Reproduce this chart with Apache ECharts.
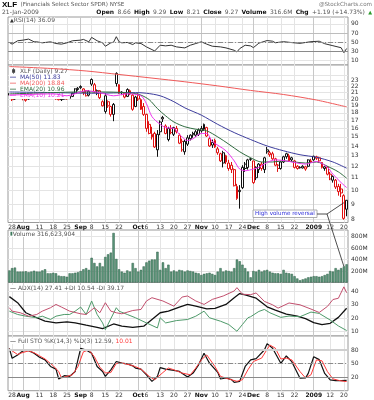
<!DOCTYPE html>
<html><head><meta charset="utf-8">
<script src="https://cdn.jsdelivr.net/npm/echarts@6/dist/echarts.min.js"></script>
<style>html,body{margin:0;padding:0;background:#fff}#c{width:374px;height:400px}</style>
</head><body><div id="c"></div>
<script>
const dates = ["7/25","7/28","7/29","7/30","7/31","8/1","8/4","8/5","8/6","8/7","8/8","8/11","8/12","8/13","8/14","8/15","8/18","8/19","8/20","8/21","8/22","8/25","8/26","8/27","8/28","8/29","9/2","9/3","9/4","9/5","9/8","9/9","9/10","9/11","9/12","9/15","9/16","9/17","9/18","9/19","9/22","9/23","9/24","9/25","9/26","9/29","9/30","10/1","10/2","10/3","10/6","10/7","10/8","10/9","10/10","10/13","10/14","10/15","10/16","10/17","10/20","10/21","10/22","10/23","10/24","10/27","10/28","10/29","10/30","10/31","11/3","11/4","11/5","11/6","11/7","11/10","11/11","11/12","11/13","11/14","11/17","11/18","11/19","11/20","11/21","11/24","11/25","11/26","11/28","12/1","12/2","12/3","12/4","12/5","12/8","12/9","12/10","12/11","12/12","12/15","12/16","12/17","12/18","12/19","12/22","12/23","12/24","12/26","12/29","12/30","12/31","1/2","1/5","1/6","1/7","1/8","1/9","1/12","1/13","1/14","1/15","1/16","1/20","1/21"];
const tickDates = ["7/28","8/1","8/11","8/18","8/25","9/2","9/8","9/15","9/22","10/1","10/6","10/13","10/20","10/27","11/3","11/10","11/17","11/24","12/1","12/8","12/15","12/22","1/2","1/12","1/20"];
const tickTexts = ["28","Aug","11","18","25","Sep","8","15","22","Oct","6","13","20","27","Nov","10","17","24","Dec","8","15","22","2009","12","20"];

const open = [20.6,20.8,20.0,20.9,21.1,20.5,20.0,20.0,20.9,20.9, 20.6,21.4,21.6,20.8,20.3,20.9,21.1,20.6,20.2,19.9, 20.0,20.4,20.1,20.4,20.9,21.5,22.0,21.0,21.3,20.6, 23.2,22.3,20.9,21.3,19.6,18.2,19.6,18.9,17.8,24.3, 22.3,21.1,20.9,20.4,20.8,20.6,18.9,20.6,19.9,18.9, 17.8,16.5,15.0,15.4,13.6,15.6,17.4,16.3,14.7,16.0, 15.3,16.0,15.2,14.5,13.4,14.2,14.8,15.4,15.2,15.3, 15.7,15.9,16.1,14.8,14.1,14.6,13.7,13.2,12.3,13.0, 12.3,12.1,11.7,10.3,10.0,10.2,11.8,11.9,12.7,12.5, 11.0,11.7,12.2,11.7,13.4,13.1,13.2,12.7,12.1,11.8, 12.4,12.9,13.0,12.8,12.5,12.0,11.9,11.85,11.75,12.0, 12.4,12.6,12.9,12.8,12.35,11.8,11.9,11.3,10.8,10.8, 10.3,10.1,9.6,8.66];
const close = [20.9,19.9,20.8,21.3,20.4,20.1,19.8,21.0,21.1,20.5, 21.5,21.7,20.9,20.4,20.9,21.0,21.05,20.0,19.9,20.0, 20.4,20.0,20.4,20.9,21.6,21.7,21.8,21.6,20.5,21.2, 22.4,21.1,21.3,20.2,19.0,20.5,19.0,17.8,19.2,22.5, 20.9,21.0,20.3,21.5,21.3,18.5,20.3,20.0,18.5,17.8, 16.0,15.4,15.3,13.9,15.3,16.8,17.2,15.4,16.0,15.5, 16.1,15.6,14.3,13.6,14.5,14.9,15.2,15.25,15.6,15.8, 16.0,16.5,15.1,14.0,14.4,13.9,13.3,12.5,13.3,12.4, 11.8,11.7,10.35,9.4,9.9,11.9,12.2,12.6,12.65,10.6, 11.9,12.2,11.8,12.8,13.6,13.3,12.7,12.1,11.8,12.4, 12.9,13.2,12.5,12.6,11.9,11.8,11.85,12.0,11.95,12.6, 12.5,12.95,12.75,12.5,11.9,11.95,11.3,10.9,11.1,10.25, 9.9,9.8,8.08,9.27];
const low = [20.3,19.7,19.9,20.5,20.3,19.8,19.6,19.9,20.6,20.3, 20.5,21.2,20.8,20.2,20.1,20.7,20.7,19.9,19.8,19.7, 19.9,19.9,20.0,20.3,20.8,21.3,21.6,20.6,20.4,20.4, 22.1,21.0,20.6,20.0,18.9,17.9,18.7,17.5,16.9,22.0, 20.8,20.6,20.1,20.3,20.6,18.3,18.8,19.7,18.4,17.6, 15.6,15.3,14.7,13.8,12.9,15.2,16.8,15.3,14.5,15.3, 15.1,15.4,14.2,13.4,13.1,14.0,14.6,14.9,15.0,15.1, 15.5,15.7,15.0,13.9,13.8,13.8,13.1,12.4,11.9,12.2, 11.6,11.4,10.3,9.3,8.7,10.1,11.5,11.7,12.5,10.5, 10.8,11.4,11.6,11.4,13.2,12.9,12.6,12.0,11.5,11.7, 12.3,12.7,12.4,12.4,11.8,11.7,11.8,11.8,11.6,11.9, 12.3,12.5,12.6,12.3,11.8,11.6,11.2,10.8,10.6,10.1, 9.6,9.5,8.0,8.21];
const high = [21.1,20.9,20.9,21.5,21.4,20.7,20.3,21.1,21.4,21.0, 21.7,22.1,21.7,21.0,21.1,21.3,21.2,20.7,20.4,20.2, 20.5,20.5,20.6,21.0,21.7,21.9,22.2,21.7,21.4,21.4, 23.4,22.6,21.5,21.4,19.8,20.9,19.8,19.0,19.4,24.5, 22.4,21.2,21.0,21.7,21.5,20.8,20.5,20.9,20.1,19.4, 17.9,16.9,16.2,15.6,15.8,17.0,17.6,16.5,16.2,16.4, 16.2,16.3,15.4,14.8,14.7,15.2,15.3,15.6,15.8,16.0, 16.3,16.6,16.2,15.0,14.7,14.8,13.9,13.3,13.5,13.1, 12.6,12.4,11.8,10.5,10.4,12.1,12.4,12.7,12.8,12.5, 12.0,12.3,12.4,12.9,13.9,13.5,13.4,12.8,12.2,12.5, 13.0,13.3,13.2,12.9,12.6,12.1,12.0,12.1,12.05,12.65, 12.7,13.0,13.0,12.9,12.4,12.0,12.0,11.5,11.2,10.9, 10.5,10.5,9.7,9.29];
const volumeM = [210,250,260,190,190,190,195,180,190,205, 190,190,210,230,160,160,170,160,120,110, 110,100,160,160,170,180,200,230,250,220, 430,340,280,340,280,445,490,520,862,410, 230,190,170,210,190,340,250,190,220,280, 350,380,400,400,535,220,350,250,310,190, 210,190,220,210,190,210,200,190,170,160, 130,150,160,170,150,130,190,250,190,210, 200,190,250,400,370,310,250,190,90,200, 190,220,190,210,220,190,170,160,160,150, 220,170,160,150,110,70,40,55,70,90, 100,110,110,100,110,130,150,200,190,250, 220,250,280,316.6];
const lastVolume = 316623904;

const ma50Pts = [[0,21.1],[16,21.0],[30,20.9],[46,21.0],[50,20.9],[55,20.5],[60,19.6],[64,18.7],[70,17.7],[76,16.5],[82,15.5],[88,14.7],[94,14.0],[100,13.5],[106,13.1],[112,12.85],[118,12.4],[123,11.83]];
const ma200Pts = [[0,25.6],[16,25.2],[28,24.75],[40,24.1],[52,23.45],[64,22.8],[76,22.1],[88,21.35],[100,20.7],[112,19.85],[123,18.84]];
const ema20Pts = [[0,20.8],[16,21.0],[25,21.1],[35,21.1],[45,20.9],[48,20.6],[51,19.9],[54,18.6],[57,17.6],[60,16.8],[64,16.2],[68,15.9],[72,15.7],[76,15.0],[80,14.2],[84,13.4],[88,12.8],[92,12.4],[96,12.4],[100,12.5],[104,12.4],[108,12.3],[112,12.4],[116,12.0],[120,11.5],[123,10.96]];
const ema10Pts = [[0,20.6],[16,20.8],[21,20.5],[28,21.3],[33,21.0],[38,20.5],[43,20.8],[48,20.5],[50,19.3],[52,17.5],[55,16.5],[57,16.1],[60,16.0],[62,15.3],[65,14.6],[67,14.8],[70,15.4],[72,15.4],[74,14.5],[79,13.5],[82,12.5],[84,11.75],[86,11.6],[89,11.75],[91,11.9],[94,12.35],[97,12.6],[101,12.5],[105,12.3],[108,12.2],[112,12.45],[116,11.9],[118,11.3],[121,10.6],[123,10.21]];

const rsiPts = [[0,49.3],[1,45.6],[3,53],[5,54.4],[7,56.7],[9,50.7],[10,50.7],[12,48.5],[15,50.7],[17,47],[19,45.6],[21,48.5],[23,53],[26,54.4],[27,56],[29,50.7],[30,60.4],[32,53],[34,48.5],[35,41],[37,48.5],[38,50],[39,61.9],[40,50.7],[41,48.5],[43,49.3],[45,44.8],[46,48.5],[48,47],[50,39.6],[52,33.7],[53,30.7],[55,43.3],[57,41.9],[59,43.3],[61,39.6],[63,38.1],[64,37.4],[66,43.3],[68,47],[70,50.7],[72,45.6],[74,41.1],[77,39.6],[79,37.4],[82,32.2],[83,28.5],[84,35.9],[86,43.3],[88,41.8],[89,38],[91,47.8],[94,53.5],[96,52],[97,48.7],[100,51],[103,49],[106,47.4],[110,51],[113,52],[115,46.6],[118,42.2],[121,37.8],[122,27],[123,36.09]];
const adxPts = [[0,36.2],[3,31.6],[6,24],[10,20.2],[13,17.6],[17,16.3],[21,17.1],[24,16.3],[28,14.6],[32,13],[34,12],[38,15.5],[41,13.8],[45,13],[49,13.8],[52,18.9],[55,24],[58,25.2],[62,28.3],[65,30.3],[68,29],[72,27],[75,27.3],[79,30.3],[82,35.4],[84,38.5],[86,37.5],[90,35],[94,28.5],[97,26],[101,23],[105,21.5],[108,19.5],[111,16.5],[114,15],[117,16],[120,20.5],[123,27.41]];
const plusDiPts = [[0,25.2],[3,22.7],[6,21.4],[10,20.2],[12,21.4],[15,18.9],[17,21.4],[20,22.7],[22,22.7],[24,25.2],[26,28.3],[28,22.7],[30,32.9],[32,22.7],[34,16.3],[35,11.2],[39,27.8],[40,25.2],[43,22.7],[46,20.2],[50,16.3],[54,12.5],[55,20.2],[57,16.3],[61,18.1],[65,18.9],[68,21.4],[71,25.2],[73,20.2],[77,17.6],[80,15.1],[83,10],[85,15.1],[87,20.2],[88,21],[91,25],[93,26.5],[95,24],[99,20.5],[102,21.5],[106,21],[110,24.5],[113,23.5],[117,18.5],[120,14],[123,10.54]];
const minusDiPts = [[0,27.8],[1,25.2],[4,24],[7,21.4],[10,22.7],[12,25.2],[15,27.8],[17,30.3],[19,28.3],[22,25.2],[26,23.2],[28,22.7],[31,27.8],[33,24],[35,31.6],[37,25.2],[39,24],[41,23.2],[45,25.7],[48,26.5],[50,32.9],[52,35.4],[56,32.9],[60,29],[63,35.9],[65,36.7],[68,32.9],[71,30.3],[74,34.1],[78,36.7],[82,40.5],[83,43],[85,38],[88,37.7],[90,39],[93,32.6],[96,30],[98,27.5],[102,31.4],[106,30],[110,26.8],[113,24.2],[116,28.8],[118,34],[120,35],[122,43.6],[123,39.17]];
const stoKPts = [[0,83.7],[1,61.7],[3,69],[5,78.5],[7,78.5],[9,72.7],[11,64],[13,58],[15,43.4],[17,37.6],[18,15.6],[20,23],[22,21.5],[24,32.4],[26,83.7],[28,80],[30,72.7],[32,43.4],[34,32.4],[35,21.5],[37,36],[39,54.4],[41,50.7],[43,49],[45,44.9],[46,39.8],[48,37.6],[50,25],[52,10.5],[54,21.5],[55,41],[57,37.6],[60,34.6],[62,32.4],[65,20],[67,28.8],[69,47],[71,72.7],[73,50.7],[76,30.3],[77,15.6],[79,17.8],[81,14.2],[82,8.3],[84,10.5],[86,43.4],[88,58],[90,61],[93,80],[94,94],[96,83.7],[99,50.5],[101,66.7],[103,54],[106,17.3],[108,18],[109,28],[111,65],[113,58.6],[115,28],[117,13.6],[119,12],[121,12],[123,12.59]];
const stoDPts = [[0,82],[1,78],[3,70],[4,72.7],[7,78],[9,74],[11,67],[13,60],[16,45],[18,32],[19,18],[21,21.5],[23,25],[25,43],[27,76],[29,80],[31,65],[33,42],[35,29],[37,30],[39,50],[41,51],[44,47],[46,43],[48,37.6],[51,21.5],[53,14],[56,30],[58,40],[60,36],[63,28.8],[66,25],[68,40],[70,58],[72,69],[75,43],[77,21.5],[80,15.6],[83,10.5],[85,14],[87,36],[89,54.4],[92,62],[95,91],[97,84],[99,60],[101,62],[103,58],[106,32],[108,18],[110,25],[112,58],[114,56],[116,32],[118,16],[120,12.7],[122,10.5],[123,10.01]];

const priceTicks = [8,9,10,11,12,13,14,15,16,17,18,19,20,21,22,23,24];
const rsiTicks = [10,30,50,70,90];
const volTicks = [200,400,600,800];
const adxTicks = [10,20,30,40];
const stoTicks = [20,50,80];
const calloutPrice = 9.1;

const F = 'DejaVu Sans';
const RED = '#e01010', BLACK = '#111';
const C_MA50 = '#3c3c9c', C_MA200 = '#f05a5a', C_EMA20 = '#2f6b3f', C_EMA10 = '#ee33ee';
const last = a => a[a.length - 1];
const lastPt = a => a[a.length - 1][1];

const tickSet = new Set(tickDates);
const labelOf = {}; tickDates.forEach((d, i) => { labelOf[d] = tickTexts[i]; });
const splitColors = tickTexts.map(t => /^\d{1,2}$/.test(t) ? '#e4e4e4' : '#c8c8c8');

const chart = echarts.init(document.getElementById('c'), null, {renderer: 'canvas', width: 374, height: 400});

const gridBase = {show: true, borderColor: '#9a9a9a', borderWidth: 1, backgroundColor: '#fff', left: 8, right: 26, outerBoundsMode: 'none'};
const grids = [
  {top: 17, height: 48},
  {top: 65, height: 157.5},
  {top: 230, height: 52.5},
  {top: 282.5, height: 53.5},
  {top: 336, height: 54.7}
].map(g => Object.assign({}, gridBase, g));

function xAx(i, showLabels) {
  return {
    type: 'category', gridIndex: i, data: dates, boundaryGap: true,
    axisLine: {show: false}, axisTick: {show: false},
    axisLabel: {
      show: showLabels, interval: (idx, val) => tickSet.has(val), margin: 2,
      fontSize: 6, fontFamily: F, color: '#333',
      formatter: val => { const t = labelOf[val] || ''; return /^\d{1,2}$/.test(t) ? t : '{m|' + t + '}'; },
      rich: {m: {fontWeight: 'bold', fontSize: 6, fontFamily: F, color: '#111'}}
    },
    splitLine: {show: true, interval: (idx, val) => tickSet.has(val), alignWithLabel: true, lineStyle: {color: splitColors, width: 1}}
  };
}
function yAx(i, base, ticks, fmt) {
  return Object.assign({
    gridIndex: i, position: 'right', scale: true,
    axisLine: {show: false}, axisTick: {show: false, customValues: ticks},
    axisLabel: {customValues: ticks, fontSize: 6, fontFamily: F, color: '#333', margin: 3, formatter: fmt},
    splitLine: {show: true, lineStyle: {color: '#e4e4e4', width: 1}}
  }, base);
}
function hl(v, color, width, type) { return {yAxis: v, lineStyle: {color: color, width: width, type: type}}; }
function ml(data) { return {silent: true, symbol: ['none', 'none'], label: {show: false}, animation: false, data: data}; }
function line(name, xi, data, color, width, extra) {
  return Object.assign({name: name, type: 'line', xAxisIndex: xi, yAxisIndex: xi, data: data, showSymbol: false, symbol: 'none',
    connectNulls: true, lineStyle: {color: color, width: width}, itemStyle: {color: color}, animation: false}, extra || {});
}

const candleData = dates.map((d, i) => {
  const col = (i > 0 && close[i] < close[i - 1]) ? RED : BLACK;
  return {value: [open[i], close[i], low[i], high[i]], itemStyle: {color: '#fff', color0: col, borderColor: col, borderColor0: col, borderWidth: 1}};
});

const legendVals = {
  'XLF (Daily)': last(close).toFixed(2), 'MA(50)': lastPt(ma50Pts).toFixed(2), 'MA(200)': lastPt(ma200Pts).toFixed(2),
  'EMA(20)': lastPt(ema20Pts).toFixed(2), 'EMA(10)': lastPt(ema10Pts).toFixed(2)
};
const lineIcon = 'path://M0,0L10,0M0,4.5L10,4.5L10,6L0,6ZM0,10L10,10';
const candleIcon = 'path://M0,0L0,0M4,0H5V2H7V8H5V10H4V8H2V2H4Z';

const option = {
  animation: false,
  grid: grids,
  xAxis: [xAx(0, false), xAx(1, true), xAx(2, false), xAx(3, false), xAx(4, true)],
  yAxis: [
    yAx(0, {type: 'value', min: 0, max: 105}, rsiTicks),
    yAx(1, {type: 'log', logBase: 10, min: 7.83, max: 25.9}, priceTicks, v => String(Math.round(v))),
    yAx(2, {type: 'value', min: 0, max: 913}, volTicks, v => v + 'M'),
    yAx(3, {type: 'value', min: 6.4, max: 46.9}, adxTicks),
    yAx(4, {type: 'value', min: -10.3, max: 111}, stoTicks)
  ],
  legend: {
    left: 9, top: 67, orient: 'vertical', itemGap: 0, itemWidth: 8, itemHeight: 6, padding: [1, 2, 1, 1],
    backgroundColor: '#fff', selectedMode: false,
    textStyle: {fontSize: 6, fontFamily: F, lineHeight: 6, padding: [0, 0, 0, -2]},
    formatter: name => name + ' ' + legendVals[name],
    data: [
      {name: 'XLF (Daily)', icon: candleIcon, itemStyle: {color: '#444', borderWidth: 0}, textStyle: {color: '#555'}},
      {name: 'MA(50)', icon: lineIcon, itemStyle: {color: C_MA50, borderWidth: 0}, textStyle: {color: C_MA50}},
      {name: 'MA(200)', icon: lineIcon, itemStyle: {color: C_MA200, borderWidth: 0}, textStyle: {color: C_MA200}},
      {name: 'EMA(20)', icon: lineIcon, itemStyle: {color: C_EMA20, borderWidth: 0}, textStyle: {color: C_EMA20}},
      {name: 'EMA(10)', icon: lineIcon, itemStyle: {color: C_EMA10, borderWidth: 0}, textStyle: {color: C_EMA10}}
    ]
  },
  series: [
    line('RSI', 0, rsiPts, '#333', 1, {markLine: ml([hl(70, '#bdbdbd', 1, 'solid'), hl(50, '#8a8a8a', 1, [5, 2, 1, 2]), hl(30, '#8a8a8a', 1.2, 'solid')])}),
    {name: 'XLF (Daily)', type: 'candlestick', xAxisIndex: 1, yAxisIndex: 1, data: candleData, barWidth: 2.4, animation: false, z: 3},
    line('MA(50)', 1, ma50Pts, C_MA50, 1, {smooth: 0.3, z: 4}),
    line('MA(200)', 1, ma200Pts, C_MA200, 1, {smooth: 0.3, z: 4}),
    line('EMA(20)', 1, ema20Pts, C_EMA20, 1, {smooth: 0.3, z: 4}),
    line('EMA(10)', 1, ema10Pts, C_EMA10, 1, {smooth: 0.3, z: 4}),
    {name: 'Volume', type: 'bar', xAxisIndex: 2, yAxisIndex: 2, data: volumeM, barCategoryGap: '15%', animation: false,
      itemStyle: {color: '#5b967a', borderColor: '#2f5e46', borderWidth: 0.5}},
    line('ADX', 3, adxPts, '#111', 1.3),
    line('+DI', 3, plusDiPts, '#4e9a6a', 1),
    line('-DI', 3, minusDiPts, '#c2506e', 1),
    line('%K', 4, stoKPts, '#111', 1.2, {markLine: ml([hl(80, '#cfcfcf', 2, 'solid'), hl(50, '#8a8a8a', 1, [5, 2, 1, 2]), hl(20, '#8a8a8a', 1.2, 'solid')])}),
    line('%D', 4, stoDPts, '#ff3b3b', 1)
  ]
};
chart.setOption(option);

const chg = close[close.length - 1] - close[close.length - 2];
const pct = chg / close[close.length - 2] * 100;
const fmtVol = n => String(n).replace(/\B(?=(\d{3})+(?!\d))/g, ',');
const small = {fontSize: 6, fontFamily: F, fill: '#555'};
const bold = {fontSize: 6, fontFamily: F, fontWeight: 'bold', fill: '#111'};

const pCandle = chart.convertToPixel({gridIndex: 1}, [dates[122], calloutPrice]);
const pVol = chart.convertToPixel({gridIndex: 2}, [dates[122], volumeM[122]]);
const vtx = [327, 214];

const graphics = [
  {type: 'text', x: 2, y: 5, style: {text: '{t|XLF} {s|(Financials Select Sector SPDR) NYSE}', verticalAlign: 'middle',
    rich: {t: {fontSize: 8, fontFamily: 'Liberation Sans', fontWeight: 'bold', fill: '#000'}, s: {fontSize: 5.6, fontFamily: F, fill: '#555'}}}},
  {type: 'text', x: 372, y: 5, style: {text: '@StockCharts.com', align: 'right', verticalAlign: 'middle', fontSize: 5.6, fontFamily: F, fill: '#777'}},
  {type: 'text', x: 2, y: 12.5, style: {text: '21-Jan-2009', verticalAlign: 'middle', fontSize: 6, fontFamily: F, fill: '#555'}},
  {type: 'text', x: 372, y: 12.5, style: {align: 'right', verticalAlign: 'middle',
    text: '{b|Open} {v|' + last(open).toFixed(2) + '} {b|High} {v|' + last(high).toFixed(2) + '} {b|Low} {v|' + last(low).toFixed(2) +
      '} {b|Close} {v|' + last(close).toFixed(2) + '} {b|Volume} {v|' + last(volumeM).toFixed(1) + 'M} {b|Chg} {v|+' + chg.toFixed(2) +
      ' (+' + pct.toFixed(2) + '%)} {g|▲}',
    rich: {b: bold, v: small, g: {fontSize: 5, fontFamily: F, fill: '#2a9a2a'}}}},
  {type: 'text', x: 10, y: 20.5, z: 50, style: {text: '{i|▲}RSI(14) ' + lastPt(rsiPts).toFixed(2), verticalAlign: 'middle', fontSize: 6, fontFamily: F, fill: '#555',
    backgroundColor: '#fff', rich: {i: {fontSize: 5, fill: '#333', fontFamily: F}}}},
  {type: 'text', x: 10, y: 234, z: 50, style: {text: '{i|▮}Volume ' + fmtVol(lastVolume), verticalAlign: 'middle', fontSize: 6, fontFamily: F, fill: '#555',
    backgroundColor: '#fff', rich: {i: {fontSize: 5, fill: '#3e7a5c', fontFamily: F}}}},
  {type: 'text', x: 10, y: 288, z: 50, style: {text: '{k|—} ADX(14) ' + lastPt(adxPts).toFixed(2) + ' +DI ' + lastPt(plusDiPts).toFixed(2) + ' -DI ' + lastPt(minusDiPts).toFixed(2),
    verticalAlign: 'middle', fontSize: 6, fontFamily: F, fill: '#555', backgroundColor: '#fff', rich: {k: {fontSize: 6, fill: '#111', fontFamily: F}}}},
  {type: 'text', x: 10, y: 341, z: 50, style: {text: '{k|—} Full STO %K(14,3) %D(3) ' + lastPt(stoKPts).toFixed(2) + ', {r|' + lastPt(stoDPts).toFixed(2) + '}',
    verticalAlign: 'middle', fontSize: 6, fontFamily: F, fill: '#555', backgroundColor: '#fff',
    rich: {k: {fontSize: 6, fill: '#111', fontFamily: F}, r: {fontSize: 6, fill: '#ff3b3b', fontFamily: F}}}},
  {type: 'rect', z: 50, shape: {x: 253, y: 210, width: 64, height: 7.5}, style: {fill: '#fff', stroke: '#999', lineWidth: 0.8}},
  {type: 'text', x: 255, y: 214, z: 51, style: {text: 'High volume reversal', verticalAlign: 'middle', fontSize: 5.6, fontFamily: F, fill: '#2a2ad8'}},
  {type: 'polyline', z: 50, shape: {points: [[317, 214], vtx, pCandle]}, style: {stroke: '#222', lineWidth: 0.8, fill: null}},
  {type: 'polyline', z: 50, shape: {points: [vtx, pVol]}, style: {stroke: '#222', lineWidth: 0.8, fill: null}}
];
chart.setOption({graphic: graphics});
</script>
</body></html>
